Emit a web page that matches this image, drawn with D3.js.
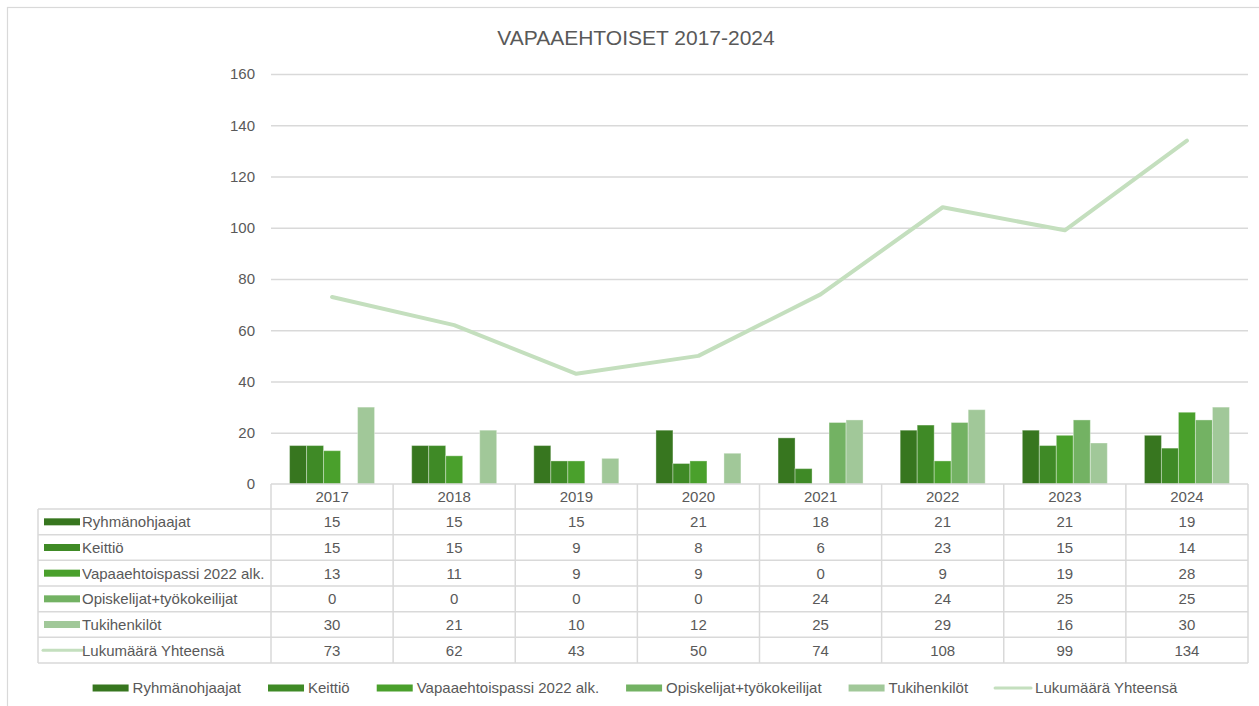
<!DOCTYPE html>
<html>
<head>
<meta charset="utf-8">
<script src="https://cdn.jsdelivr.net/npm/d3@7"></script>
<style>
  html, body { margin: 0; padding: 0; background: #fff; }
  svg { display: block; font-family: "Liberation Sans", Arial, sans-serif; }
</style>
</head>
<body>
<svg id="chart" width="1259" height="706"></svg>
<script>
const title = "VAPAAEHTOISET 2017-2024";
const years = ["2017", "2018", "2019", "2020", "2021", "2022", "2023", "2024"];
const barSeriesNames = ["Ryhmänohjaajat", "Keittiö", "Vapaaehtoispassi 2022 alk.", "Opiskelijat+työkokeilijat", "Tukihenkilöt"];
const ryhmanohjaajat = [15, 15, 15, 21, 18, 21, 21, 19];
const keittio = [15, 15, 9, 8, 6, 23, 15, 14];
const vapaaehtoispassi = [13, 11, 9, 9, 0, 9, 19, 28];
const opiskelijat = [0, 0, 0, 0, 24, 24, 25, 25];
const tukihenkilot = [30, 21, 10, 12, 25, 29, 16, 30];
const lineName = "Lukumäärä Yhteensä";
const yhteensa = [73, 62, 43, 50, 74, 108, 99, 134];
const yTicks = [0, 20, 40, 60, 80, 100, 120, 140, 160];

const barColors = ["#37761f", "#3f8a26", "#4aa02c", "#73b263", "#a1c899"];
const lineColor = "#c4dfbe";
const textColor = "#595959";
const gridColor = "#d9d9d9";

const barSeries = [ryhmanohjaajat, keittio, vapaaehtoispassi, opiskelijat, tukihenkilot];

const svg = d3.select("#chart");

// outer border
svg.append("rect").attr("x", 7.5).attr("y", 7.5).attr("width", 1262).attr("height", 712)
  .attr("fill", "#fff").attr("stroke", gridColor).attr("stroke-width", 1.2);

// title
svg.append("text").attr("x", 636).attr("y", 45).attr("text-anchor", "middle")
  .attr("font-size", 21).attr("fill", textColor).text(title);

const plotLeft = 271, plotRight = 1248, plotTop = 74, plotBottom = 484;
const x = d3.scaleBand().domain(years).range([plotLeft, plotRight]).paddingInner(0).paddingOuter(0);
const y = d3.scaleLinear().domain([0, 160]).range([plotBottom, plotTop]);

// gridlines
const yAxis = d3.axisLeft(y).tickValues(yTicks).tickSize(-(plotRight - plotLeft)).tickPadding(16);
const gAxis = svg.append("g").attr("transform", `translate(${plotLeft},0)`).call(yAxis);
gAxis.select(".domain").remove();
gAxis.selectAll(".tick line").attr("stroke", gridColor).attr("stroke-width", 1.5)
  .filter(d => d === 0).remove();
gAxis.selectAll(".tick text").attr("fill", textColor).attr("font-size", 15)
  .attr("font-family", "'Liberation Sans', Arial, sans-serif");

// bars
const groupWidth = 85;
const xInner = d3.scaleBand().domain(d3.range(barSeries.length)).range([0, groupWidth]).padding(0);
const barsG = svg.append("g");
barSeries.forEach((vals, si) => {
  barsG.selectAll(null).data(vals.map((v, i) => ({ v, year: years[i] })))
    .join("rect")
    .filter(d => d.v > 0)
    .attr("x", d => x(d.year) + (x.bandwidth() - groupWidth) / 2 + xInner(si))
    .attr("y", d => y(d.v))
    .attr("width", xInner.bandwidth())
    .attr("height", d => y(0) - y(d.v))
    .attr("fill", barColors[si])
    .attr("stroke", "#ffffff").attr("stroke-opacity", 0.35).attr("stroke-width", 1);
});

// line
const line = d3.line().x((d, i) => x(years[i]) + x.bandwidth() / 2).y(d => y(d));
svg.append("path").datum(yhteensa).attr("d", line).attr("fill", "none")
  .attr("stroke", lineColor).attr("stroke-width", 4).attr("stroke-linecap", "round")
  .attr("stroke-linejoin", "round");

// data table
const tableLeft = 38;
const headerTop = 484, headerBottom = 509;
const rowH = (663 - 509) / 6;
const tableG = svg.append("g");
const allRows = barSeries.concat([yhteensa]);
const allNames = barSeriesNames.concat([lineName]);
const tableBottom = headerBottom + rowH * allRows.length;

// horizontal lines
tableG.append("line").attr("x1", plotLeft).attr("x2", plotRight).attr("y1", headerTop).attr("y2", headerTop)
  .attr("stroke", gridColor).attr("stroke-width", 1.5);
for (let r = 0; r <= allRows.length; r++) {
  const yy = headerBottom + r * rowH;
  tableG.append("line").attr("x1", tableLeft).attr("x2", plotRight).attr("y1", yy).attr("y2", yy)
    .attr("stroke", gridColor).attr("stroke-width", 1.5);
}
// vertical lines
tableG.append("line").attr("x1", tableLeft).attr("x2", tableLeft).attr("y1", headerBottom).attr("y2", tableBottom)
  .attr("stroke", gridColor).attr("stroke-width", 1.5);
years.forEach((yr, i) => {
  const xx = x(yr);
  tableG.append("line").attr("x1", xx).attr("x2", xx).attr("y1", headerTop).attr("y2", tableBottom)
    .attr("stroke", gridColor).attr("stroke-width", 1.5);
});
tableG.append("line").attr("x1", plotRight).attr("x2", plotRight).attr("y1", headerTop).attr("y2", tableBottom)
  .attr("stroke", gridColor).attr("stroke-width", 1.5);

// header labels
tableG.selectAll(null).data(years).join("text")
  .attr("x", d => x(d) + x.bandwidth() / 2).attr("y", (headerTop + headerBottom) / 2)
  .attr("dy", "0.36em").attr("text-anchor", "middle").attr("font-size", 15).attr("fill", textColor)
  .text(d => d);

// rows
allRows.forEach((vals, r) => {
  const cy = headerBottom + r * rowH + rowH / 2;
  if (r < barSeries.length) {
    tableG.append("rect").attr("x", 44).attr("y", cy - 3.5).attr("width", 36).attr("height", 7)
      .attr("fill", barColors[r]);
  } else {
    tableG.append("line").attr("x1", 43).attr("x2", 82).attr("y1", cy).attr("y2", cy)
      .attr("stroke", lineColor).attr("stroke-width", 3).attr("stroke-linecap", "round");
  }
  tableG.append("text").attr("x", 82).attr("y", cy).attr("dy", "0.36em")
    .attr("font-size", 15).attr("fill", textColor).text(allNames[r]);
  tableG.selectAll(null).data(vals).join("text")
    .attr("x", (d, i) => x(years[i]) + x.bandwidth() / 2).attr("y", cy).attr("dy", "0.36em")
    .attr("text-anchor", "middle").attr("font-size", 15).attr("fill", textColor)
    .text(d => d);
});

// bottom legend
const legendY = 688;
const legendG = svg.append("g");
const swW = 36, swGap = 4, itemGap = 27;
const items = allNames.map((n, i) => ({ name: n, i }));
// measure
const tmp = svg.append("text").attr("font-size", 15);
items.forEach(it => { tmp.text(it.name); it.w = tmp.node().getComputedTextLength(); });
tmp.remove();
const totalW = d3.sum(items, it => swW + swGap + it.w) + itemGap * (items.length - 1);
let cx = 635 - totalW / 2;
items.forEach(it => {
  if (it.i < barSeries.length) {
    legendG.append("rect").attr("x", cx).attr("y", legendY - 3.5).attr("width", swW).attr("height", 7)
      .attr("fill", barColors[it.i]);
  } else {
    legendG.append("line").attr("x1", cx).attr("x2", cx + swW).attr("y1", legendY).attr("y2", legendY)
      .attr("stroke", lineColor).attr("stroke-width", 3).attr("stroke-linecap", "round");
  }
  legendG.append("text").attr("x", cx + swW + swGap).attr("y", legendY).attr("dy", "0.36em")
    .attr("font-size", 15).attr("fill", textColor).text(it.name);
  cx += swW + swGap + it.w + itemGap;
});
</script>
</body>
</html>
